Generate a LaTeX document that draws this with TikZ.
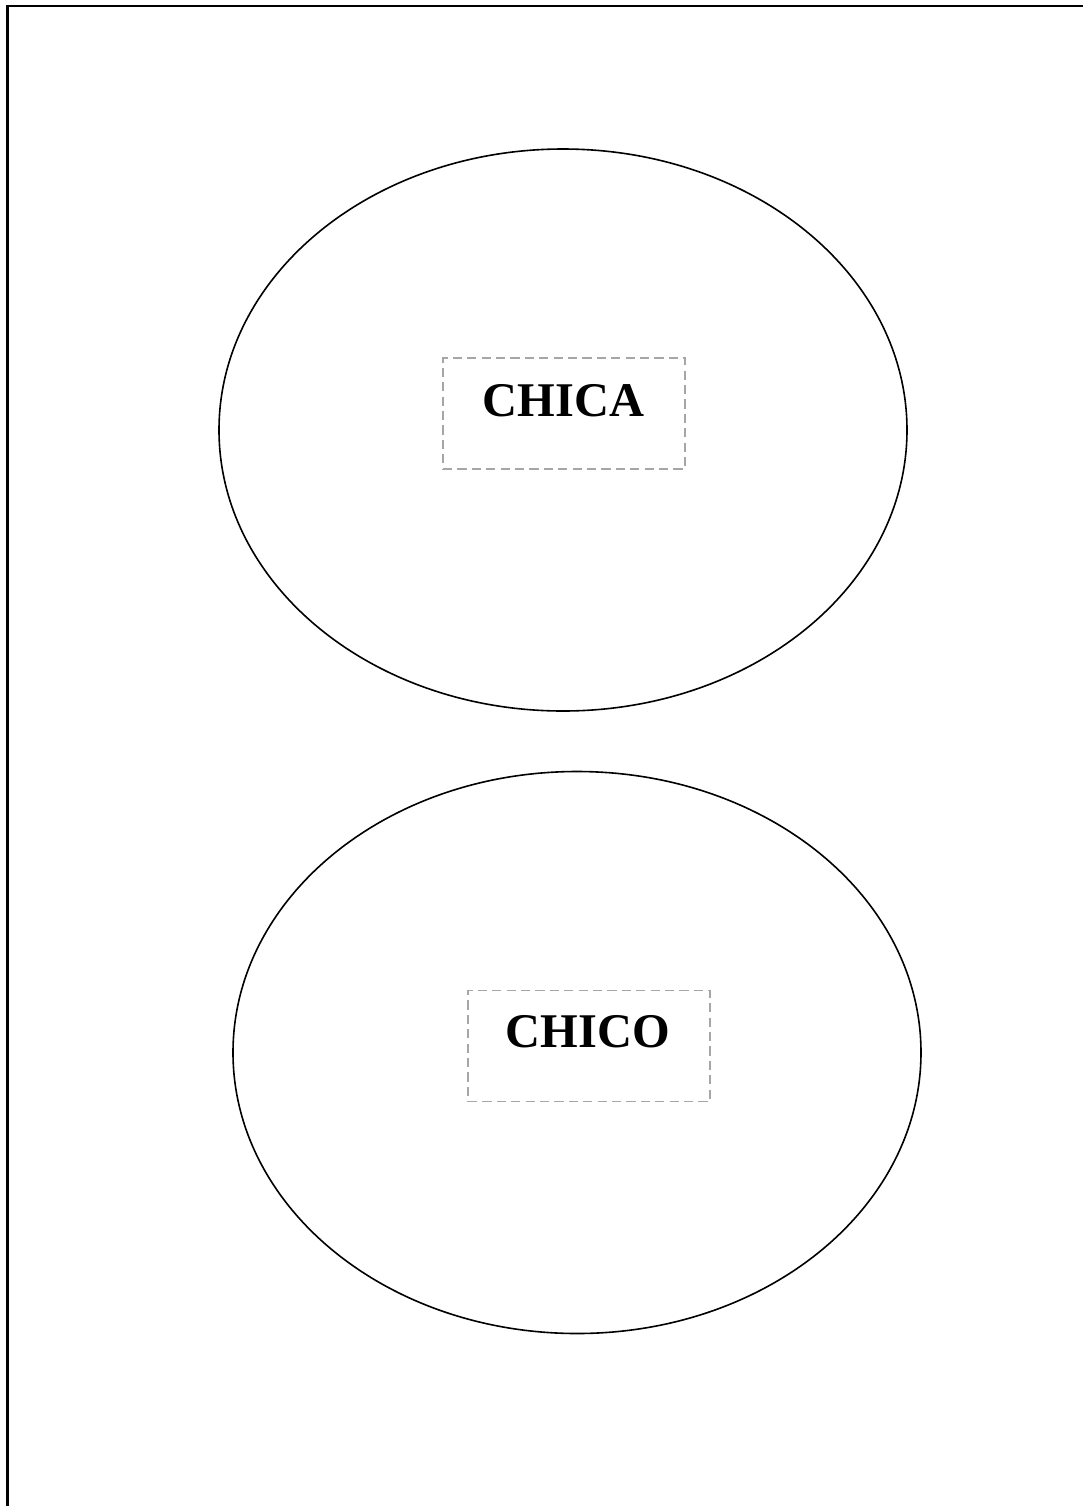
\documentclass[tikz,border=0pt]{standalone}
\usepackage{fontspec}
\setmainfont{Liberation Serif}
\usetikzlibrary{shapes.geometric}
\begin{document}
\begin{tikzpicture}[x=0.5pt,y=-0.5pt,
  oval/.style={draw=black,line width=0.8pt,ellipse,inner sep=0pt,minimum width=344pt,minimum height=281pt},
  dashbox/.style={draw=black!35,line width=0.9pt,dash pattern=on 4.6pt off 2.6pt,minimum width=121pt,minimum height=55.5pt,inner sep=0pt},
  lbl/.style={font=\bfseries\fontsize{24.2}{29}\selectfont,anchor=base,inner sep=0pt}]
\useasboundingbox (0,0) rectangle (1083,1506);
\coordinate (tl) at (7.5,5.8);
\coordinate (tr) at (1083,5.8);
\coordinate (bl) at (7.5,1506);
\draw[line width=1.2pt] (bl) -- (tl) -- (tr);
\node[oval] (e1) at (563,430) {};
\node[oval] (e2) at (577,1052.5) {};
\node[dashbox] (b1) at (564,413.5) {};
\node[dashbox] (b2) at (589,1046) {};
\node[lbl] (t1) at (563.5,416) {CHICA};
\node[lbl] (t2) at (588,1047) {CHICO};
\end{tikzpicture}
\end{document}
